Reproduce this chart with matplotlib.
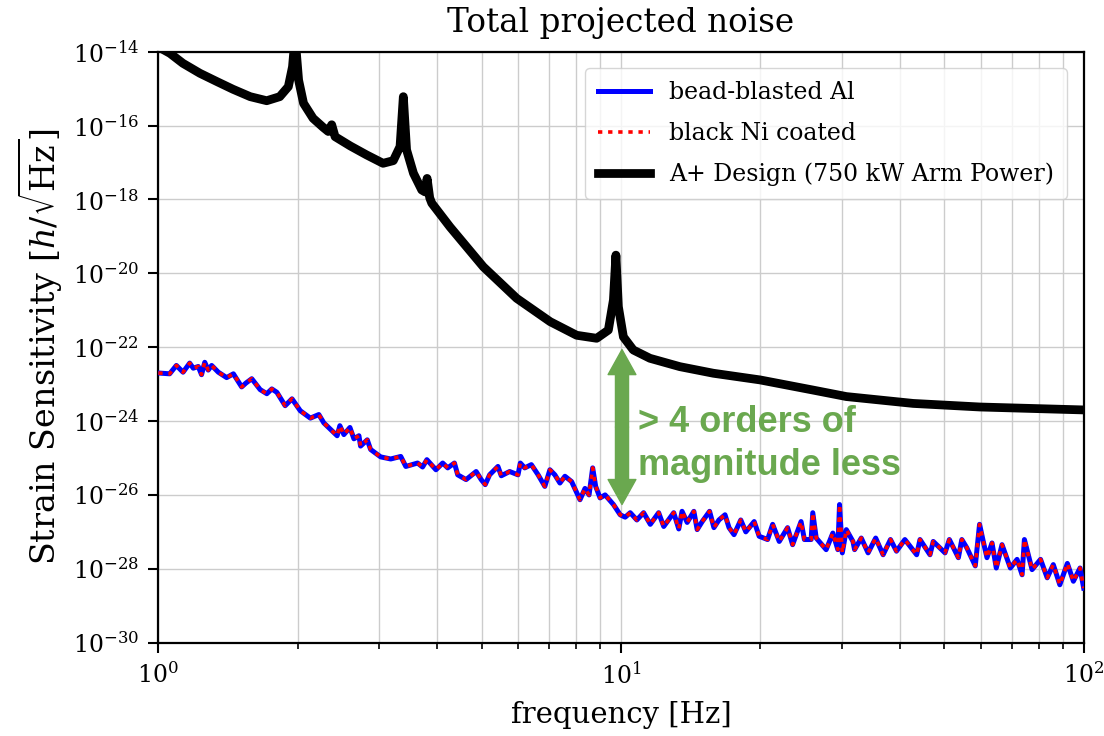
import numpy as np
import matplotlib
matplotlib.use("Agg")
import matplotlib.pyplot as plt
from matplotlib.patches import FancyArrowPatch
from matplotlib.ticker import NullLocator

plt.rcParams['font.family'] = 'DejaVu Serif'
plt.rcParams['mathtext.fontset'] = 'dejavuserif'

# A+ design curve
aplus_freq = [1.0, 1.06, 1.13, 1.23, 1.34, 1.45, 1.58, 1.715, 1.83, 1.91, 1.95, 1.975,
              2.01, 2.06, 2.16, 2.27, 2.33, 2.37, 2.41, 2.60, 2.82, 3.06, 3.22, 3.33,
              3.385, 3.44, 3.56, 3.71, 3.77, 3.81, 3.86, 3.90, 4.27, 5.04, 5.95, 7.03,
              8.02, 8.86, 9.39, 9.63, 9.75, 9.87, 10.12, 10.63, 11.55, 13.4, 15.83,
              19.97, 26.0, 30.7, 42.8, 59.7, 100.0]
aplus_strain = [1.35e-14, 9.0e-15, 4.85e-15, 2.6e-15, 1.54e-15, 9.6e-16, 6.05e-16, 4.7e-16,
                6.05e-16, 1.13e-15, 3.9e-15, 2.5e-14,
                1.7e-15, 4.0e-16, 1.57e-16, 9.0e-17, 6.9e-17, 1.05e-16, 5.0e-17, 2.8e-17,
                1.6e-17, 9.5e-18, 1.12e-17, 2.7e-17,
                6.05e-16, 2.2e-17, 5.1e-18, 1.8e-18, 1.6e-18, 3.7e-18, 1.1e-18, 7.9e-19,
                1.8e-19, 1.5e-20, 2.1e-21, 4.9e-22,
                2.1e-22, 1.74e-22, 2.9e-22, 1.9e-21, 3.1e-20, 1.25e-21, 1.9e-22, 8.4e-23,
                5.0e-23, 2.97e-23, 1.97e-23,
                1.3e-23, 6.9e-24, 4.6e-24, 3.0e-24, 2.4e-24, 2.0e-24]

# bead-blasted Al projected noise
al_freq = [1.0, 1.058, 1.094, 1.131, 1.169, 1.190, 1.220, 1.240, 1.260, 1.282,
           1.304, 1.348, 1.405, 1.453, 1.514, 1.547, 1.592, 1.660, 1.716, 1.759,
           1.804, 1.880, 1.945, 2.027, 2.131, 2.223, 2.279, 2.435, 2.468, 2.518,
           2.595, 2.647, 2.714, 2.736, 2.829, 2.876, 3.024, 3.179, 3.342, 3.427,
           3.634, 3.725, 3.806, 3.981, 4.117, 4.222, 4.365, 4.437, 4.626, 4.863,
           4.987, 5.088, 5.200, 5.420, 5.511, 5.746, 5.989, 6.059, 6.194, 6.401,
           6.62, 6.845, 7.02, 7.195, 7.379, 7.565, 7.82, 8.154, 8.36, 8.53,
           8.685, 8.816, 9.01, 9.24, 9.63, 9.96, 10.21, 10.47, 10.82, 11.19,
           11.57, 12.06, 12.37, 13.0, 13.33, 13.55, 13.9, 14.37, 14.61, 14.98,
           15.54, 15.88, 16.28, 16.78, 17.12, 17.55, 18.15, 18.61, 19.4, 19.89,
           20.74, 21.27, 21.98, 22.91, 23.49, 24.5, 24.91, 25.76, 25.97, 26.42,
           27.76, 28.7, 29.42, 29.67, 30.08, 30.69, 31.72, 31.98, 33.06, 34.2,
           35.52, 36.85, 38.23, 39.39, 41.07, 43.55, 44.28, 46.54, 47.3, 50.15,
           51.25, 53.6, 54.53, 55.9, 58.3, 59.56, 60.77, 61.8, 63.37, 64.73,
           66.6, 69.43, 71.78, 73.6, 74.45, 77.35, 80.68, 83.4, 85.96, 88.8,
           92.2, 95.0, 98.2, 100.0]
al_strain = [2.0e-23, 1.9e-23, 3.2e-23, 2.1e-23, 3.7e-23, 2.7e-23, 3.0e-23, 1.8e-23, 3.9e-23, 2.4e-23,
             3.2e-23, 2.1e-23, 1.5e-23, 1.9e-23, 8.4e-24, 1.07e-23, 1.4e-23, 7.1e-24, 5.5e-24, 7.4e-24,
             6.0e-24, 2.6e-24, 4.0e-24, 1.9e-24, 1.2e-24, 1.5e-24, 8.9e-25, 4.0e-25, 7.5e-25, 4.3e-25,
             6.7e-25, 3.3e-25, 4.0e-25, 2.1e-25, 3.1e-25, 1.7e-25, 1.07e-25, 9.4e-26, 1.1e-25, 5.9e-26,
             7.3e-26, 5.7e-26, 9.0e-26, 4.8e-26, 7.3e-26, 5.4e-26, 7.3e-26, 3.5e-26, 2.6e-26, 4.3e-26,
             2.6e-26, 1.9e-26, 3.5e-26, 5.9e-26, 3.3e-26, 4.3e-26, 3.5e-26, 7.3e-26, 5.4e-26, 6.6e-26,
             3.5e-26, 1.7e-26, 4.8e-26, 3.5e-26, 2.1e-26, 3.2e-26, 2.3e-26, 7.4e-27, 1.5e-26, 1.0e-26,
             5.4e-26, 1.7e-26, 8.3e-27, 1.0e-26, 5.5e-27, 2.9e-27, 2.5e-27, 3.3e-27, 2.1e-27, 3.3e-27,
             1.6e-27, 3.3e-27, 1.4e-27, 3.3e-27, 1.2e-27, 3.6e-27, 1.8e-27, 3.6e-27, 1.15e-27, 1.9e-27,
             3.6e-27, 1.3e-27, 2.1e-27, 2.9e-27, 1.3e-27, 8.4e-28, 2.1e-27, 1.0e-27, 1.9e-27, 7.6e-28,
             6.2e-28, 1.6e-27, 5.5e-28, 1.3e-27, 4.5e-28, 1.9e-27, 6.2e-28, 6.2e-28, 3.3e-27, 6.8e-28,
             3.3e-28, 9.3e-28, 3.3e-28, 5.5e-27, 2.7e-28, 1.15e-27, 5.5e-28, 3.3e-28, 6.8e-28, 2.7e-28,
             6.8e-28, 2.4e-28, 6.2e-28, 3.0e-28, 6.2e-28, 2.4e-28, 6.2e-28, 2.4e-28, 5.5e-28, 2.7e-28,
             6.2e-28, 2.0e-28, 6.2e-28, 3.7e-28, 1.2e-28, 1.6e-27, 5.0e-28, 2.0e-28, 5.0e-28, 1.05e-28,
             4.5e-28, 1.05e-28, 1.8e-28, 6.9e-29, 6.2e-28, 9.5e-29, 1.8e-28, 5.7e-29, 1.3e-28, 3.7e-29,
             1.4e-28, 4.6e-29, 1.05e-28, 3.0e-29]

# black Ni coated: on the picture it lies right on top of the Al curve
ni_freq = al_freq
ni_strain = al_strain

green = '#6aa84f'

fig, ax = plt.subplots(figsize=(11.04, 7.36), dpi=100)
fig.subplots_adjust(left=0.1434, right=0.9816, bottom=0.1268, top=0.9298)

ax.loglog(al_freq, al_strain, color='blue', lw=3.6, label='bead-blasted Al', zorder=3)
ax.loglog(ni_freq, ni_strain, color='red', lw=2.6, ls=(0, (1.2, 1.6)),
          label='black Ni coated', zorder=4)
ax.loglog(aplus_freq, aplus_strain, color='black', lw=6.3, solid_joinstyle='round',
          label='A+ Design (750 kW Arm Power)', zorder=5)

ax.set_xlim(1, 100)
ax.set_ylim(1e-30, 1e-14)
ax.set_yticks([10.0 ** e for e in range(-30, -13, 2)])
ax.yaxis.set_minor_locator(NullLocator())

ax.grid(True, which='major', color='#cccccc', lw=1.0)
ax.grid(True, which='minor', axis='x', color='#cccccc', lw=1.0)
ax.set_axisbelow(True)

for s in ax.spines.values():
    s.set_linewidth(1.6)
ax.tick_params(which='major', length=7, width=1.5, labelsize=17, direction='out', pad=7)
ax.tick_params(which='minor', length=4, width=1.2)

ax.set_title('Total projected noise', fontsize=23.5, pad=14)
ax.set_xlabel('frequency [Hz]', fontsize=21, labelpad=9)
ax.set_ylabel(r'Strain Sensitivity [$h/\sqrt{\mathrm{Hz}}$]', fontsize=24, labelpad=6)

ax.legend(loc='upper right', fontsize=17, borderaxespad=0.7, handlelength=2.2,
          labelspacing=0.75, borderpad=0.55)

# "> 4 orders" arrow
mid = np.sqrt(8.6e-23 * 5.5e-27)
for tip in (8.6e-23, 5.5e-27):
    ax.add_patch(FancyArrowPatch((10.05, mid), (10.05, tip),
                                 arrowstyle='simple,head_length=0.9,head_width=1.0,tail_width=0.47',
                                 mutation_scale=20, color=green, shrinkA=0, shrinkB=0, zorder=6))
ax.text(10.9, 2.8e-24, '> 4 orders of\nmagnitude less', color=green, fontsize=26,
        fontweight='bold', family='Liberation Sans', va='top', ha='left',
        linespacing=1.3, zorder=6)

plt.savefig('out.png', dpi=100)
